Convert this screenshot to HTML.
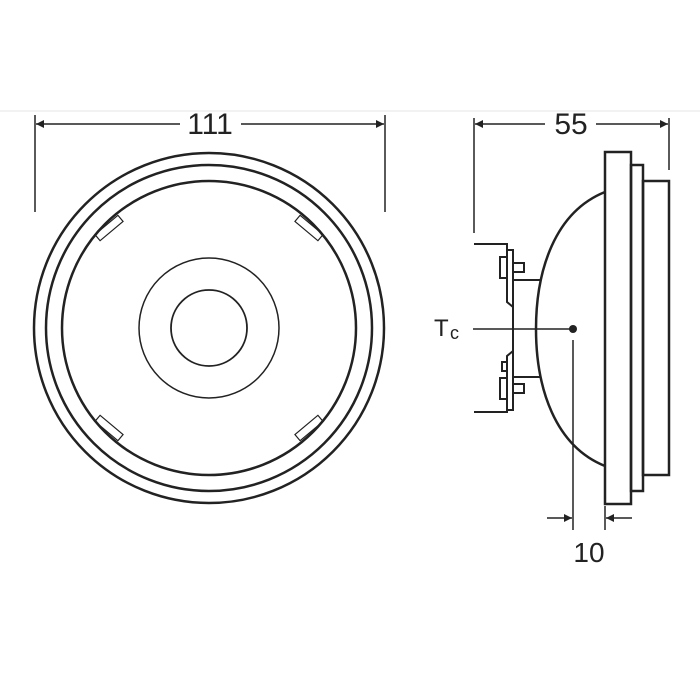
<!DOCTYPE html>
<html><head><style>html,body{margin:0;padding:0;background:#fff;}svg{display:block}</style></head>
<body>
<svg width="700" height="700" viewBox="0 0 700 700" xmlns="http://www.w3.org/2000/svg">
<defs>
<marker id="a" viewBox="0 0 10 10" refX="10" refY="5" markerWidth="13" markerHeight="8" markerUnits="userSpaceOnUse" orient="auto"><path d="M0,0 L10,5 L0,10 z" fill="#222"/></marker>
</defs>
<line x1="0" y1="111" x2="700" y2="111" stroke="#e4e4e4" stroke-width="1"/>
<g stroke="#222" fill="none">
<line x1="35" y1="115" x2="35" y2="212" stroke-width="1.5"/>
<line x1="385" y1="115" x2="385" y2="212" stroke-width="1.5"/>
<line x1="180" y1="124" x2="36" y2="124" stroke-width="1.5" marker-end="url(#a)"/>
<line x1="241" y1="124" x2="384" y2="124" stroke-width="1.5" marker-end="url(#a)"/>
<circle cx="209" cy="328" r="175" stroke-width="2.5"/>
<circle cx="209" cy="328" r="163" stroke-width="2.5"/>
<circle cx="209" cy="328" r="147" stroke-width="2.5"/>
<circle cx="209" cy="328" r="70" stroke-width="1.5"/>
<circle cx="209" cy="328" r="38" stroke-width="1.8"/>
<g stroke-width="1.2">
<rect x="-15" y="-4" width="30" height="8" transform="translate(109,228) rotate(-40)"/>
<rect x="-15" y="-4" width="30" height="8" transform="translate(309,228) rotate(40)"/>
<rect x="-15" y="-4" width="30" height="8" transform="translate(109,428) rotate(40)"/>
<rect x="-15" y="-4" width="30" height="8" transform="translate(309,428) rotate(-40)"/>
</g>
<line x1="474" y1="118" x2="474" y2="233" stroke-width="1.5"/>
<line x1="669" y1="118" x2="669" y2="170" stroke-width="1.5"/>
<line x1="545" y1="124" x2="475" y2="124" stroke-width="1.5" marker-end="url(#a)"/>
<line x1="596" y1="124" x2="668" y2="124" stroke-width="1.5" marker-end="url(#a)"/>
<rect x="605" y="152" width="26" height="352" stroke-width="2.5"/>
<rect x="631" y="165" width="12" height="326" stroke-width="2.5"/>
<rect x="643" y="181" width="26" height="294" stroke-width="2.5"/>
<path d="M605,192 C555,212 536,270 536,329 C536,388 555,446 605,466" stroke-width="2.5"/>
<g stroke-width="2">
<polyline points="474,244 507,244 507,302 513,307"/>
<polyline points="474,412 507,412 507,356 513,351"/>
<polyline points="507,250 513,250 513,410 507,410"/>
<rect x="500" y="257" width="7" height="21"/>
<rect x="513" y="263" width="11" height="9"/>
<rect x="500" y="378" width="7" height="21"/>
<rect x="502" y="362" width="5" height="9"/>
<rect x="513" y="384" width="11" height="9"/>
<line x1="513" y1="280" x2="540" y2="280"/>
<line x1="513" y1="377" x2="540" y2="377"/>
</g>
<line x1="473" y1="329" x2="573" y2="329" stroke-width="1.5"/>
<line x1="573" y1="340" x2="573" y2="530" stroke-width="1.5"/>
<line x1="605" y1="506" x2="605" y2="530" stroke-width="1.5"/>
<line x1="547" y1="518" x2="572" y2="518" stroke-width="1.5" marker-end="url(#a)"/>
<line x1="632" y1="518" x2="606" y2="518" stroke-width="1.5" marker-end="url(#a)"/>
</g>
<circle cx="573" cy="329" r="4" fill="#222"/>
<g font-family="Liberation Sans, sans-serif" fill="#222">
<text x="210" y="134" font-size="30" text-anchor="middle">111</text>
<text x="571" y="134" font-size="30" text-anchor="middle">55</text>
<text x="589" y="562" font-size="28" text-anchor="middle">10</text>
<text x="434" y="336" font-size="24">T</text>
<text x="450" y="339" font-size="18">c</text>
</g>
</svg>
</body></html>
